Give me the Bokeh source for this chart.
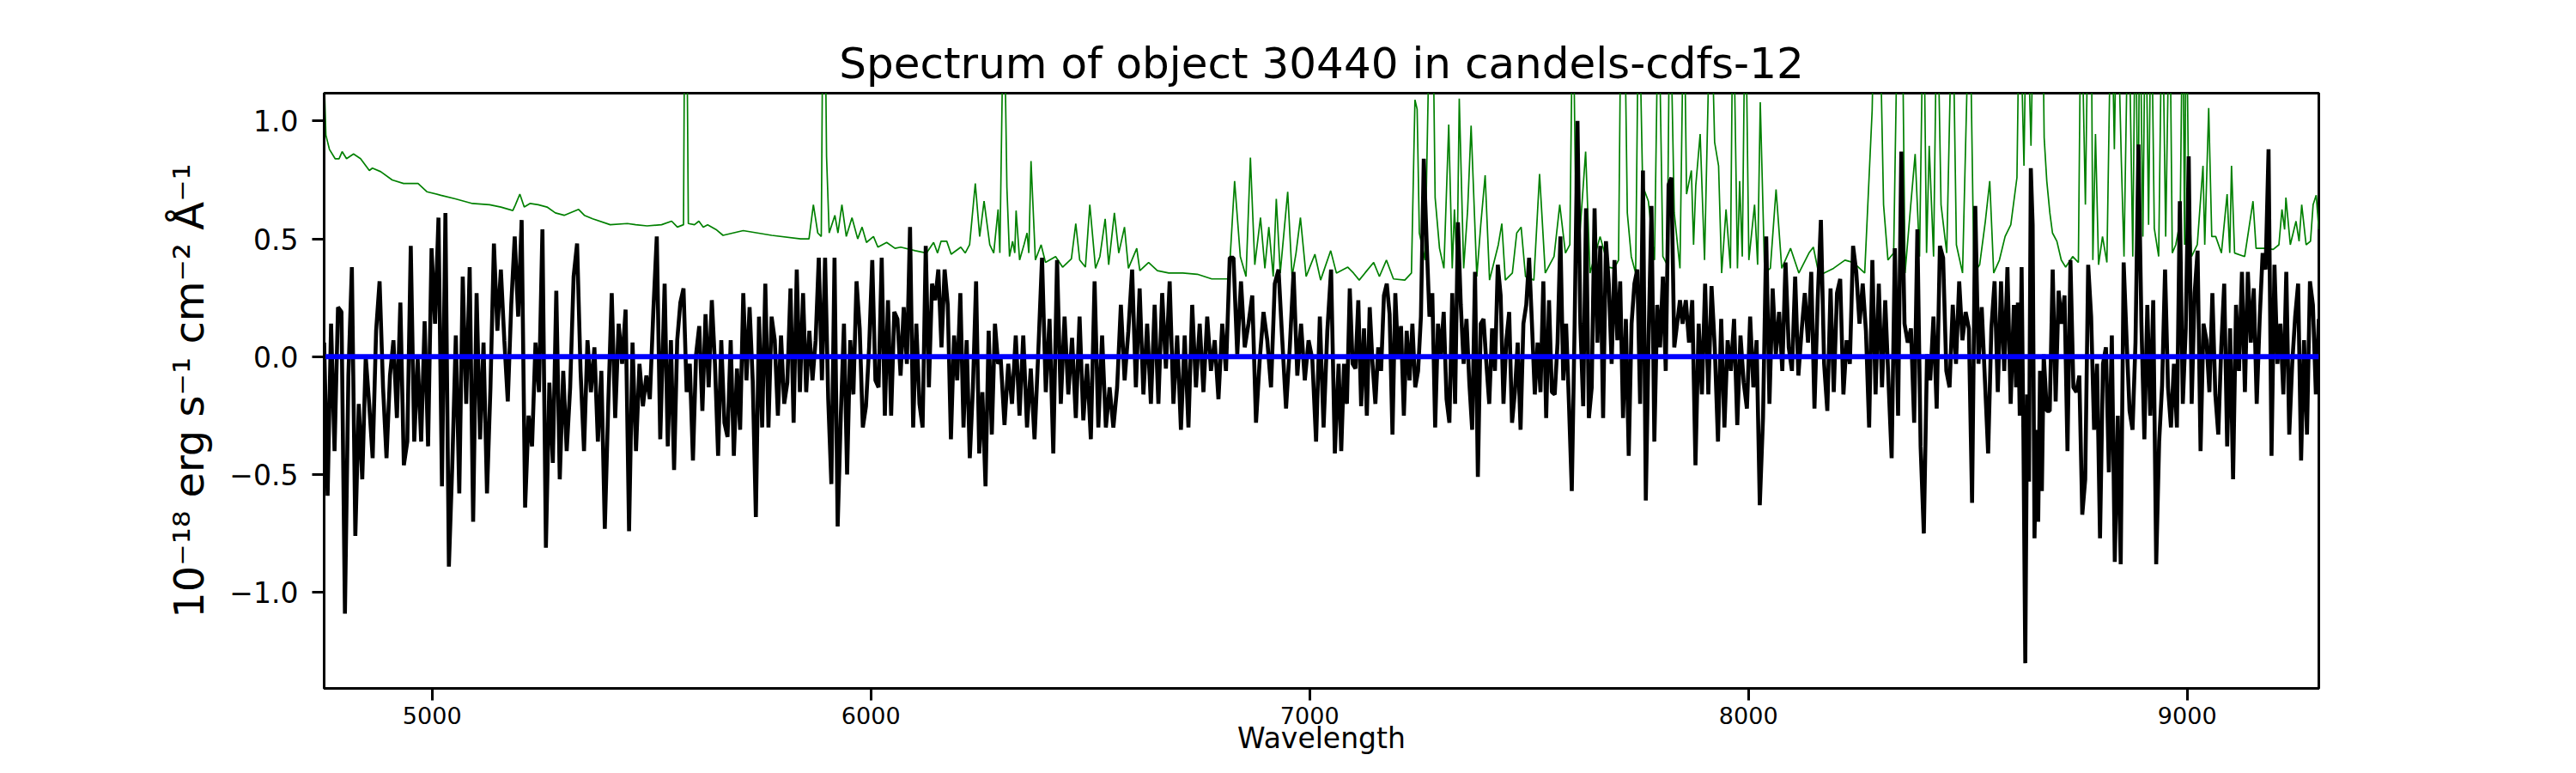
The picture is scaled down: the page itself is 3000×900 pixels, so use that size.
import numpy as np
from bokeh.plotting import figure
from bokeh.models import Range1d, FixedTicker, CustomJSTickFormatter, ColumnDataSource
from bokeh.embed import file_html
from bokeh.resources import INLINE

# ---------------- data ----------------
title_text = "Spectrum of object 30440 in candels-cdfs-12"
x_label = "Wavelength"
y_label = "10\u207b\u00b9\u2078 erg s\u207b\u00b9 cm\u207b\u00b2 \u00c5\u207b\u00b9"

x_ticks = [5000, 6000, 7000, 8000, 9000]
y_ticks = [-1.0, -0.5, 0.0, 0.5, 1.0]
x_limits = [4754, 9300]
y_limits = [-1.407, 1.118]

# observed flux, sampled on a regular grid inside each wavelength segment
seg_edges = [(4754, 5520), (5530, 6290), (6296, 7066), (7072, 7844), (7850, 8605), (8610, 8673), (8680, 9300)]

flux_seg1 = [0.06,-0.59,0.14,-0.40,0.21,0.19,-1.09,-0.08,0.38,-0.76,-0.20,-0.52,0.00,-0.20,-0.43,0.11,0.32,-0.13,-0.43,-0.08,
             0.07,-0.26,0.23,-0.46,-0.36,0.47,-0.36,-0.01,-0.36,0.15,-0.38,0.46,0.14,0.59,-0.55,0.61,-0.89,-0.45,0.09,-0.58,
             0.34,-0.20,0.38,-0.70,0.27,-0.35,0.06,-0.58,-0.13,0.48,0.11,0.37,0.07,-0.19,0.22,0.51,0.17,0.58,-0.64,-0.25,
             -0.38,0.06,-0.15,0.54,-0.81,-0.11,-0.45,0.28,-0.52,-0.06,-0.40,-0.13,0.34,0.48,-0.06,-0.40,0.07,-0.15,0.04,-0.36,
             -0.06,-0.73,-0.20,0.27,-0.26,0.14,-0.03,0.20,-0.74,0.06,-0.40,-0.03,-0.21,-0.08,-0.18,0.19,0.51,-0.35]
flux_seg2 = [0.31,-0.38,0.07,-0.48,0.07,0.23,0.29,-0.15,-0.03,-0.44,0.01,0.13,-0.23,0.18,-0.13,0.24,-0.03,-0.42,0.07,-0.28,
             -0.34,0.07,-0.42,-0.05,-0.31,0.27,-0.10,0.21,-0.10,-0.68,0.17,-0.30,0.31,-0.30,0.17,0.07,-0.25,0.09,-0.20,-0.11,
             0.29,-0.28,0.37,-0.15,0.27,-0.15,0.11,-0.10,0.07,0.42,-0.10,0.42,-0.18,-0.54,0.42,-0.72,-0.25,0.14,-0.50,0.07,
             -0.16,0.32,0.12,-0.30,-0.21,0.04,0.41,-0.10,-0.13,0.42,-0.25,0.24,-0.25,0.19,0.16,-0.08,0.21,-0.03,0.55,-0.30,
             0.14,-0.20,-0.30,0.47,-0.13,0.31,0.24,0.37,0.04,0.37,0.22,-0.35,0.09,-0.10,0.27,-0.30,0.07,-0.43,-0.13,0.32,
             -0.41,-0.15,-0.55,0.11,-0.33,0.14,-0.03]
flux_seg3 = [-0.01,-0.29,-0.03,-0.20,0.09,-0.25,0.09,-0.30,-0.05,-0.35,0.02,0.42,-0.15,0.16,-0.41,0.41,-0.20,0.17,-0.16,0.08,
             -0.26,0.17,-0.27,-0.03,-0.35,0.32,-0.30,0.09,-0.30,-0.13,-0.30,-0.13,0.22,-0.10,0.11,0.37,-0.13,0.29,-0.16,0.14,
             -0.20,0.22,-0.20,0.27,-0.05,0.32,-0.20,0.09,-0.31,0.09,-0.30,0.22,-0.13,0.14,-0.15,0.17,-0.06,0.07,-0.18,0.14,
             -0.06,0.42,0.42,0.01,0.32,0.04,0.14,0.26,-0.28,-0.01,0.19,0.07,-0.13,0.31,0.37,0.07,-0.22,0.04,0.36,-0.08,
             0.14,-0.10,0.07,-0.01,-0.36,0.17,-0.30,0.11,0.37,-0.41,-0.03]
flux_seg4 = [-0.40,-0.03,-0.20,0.29,-0.03,-0.05,0.24,-0.21,0.12,-0.25,0.21,-0.03,-0.20,0.04,-0.06,0.26,0.31,0.18,-0.33,0.27,
             -0.01,0.13,-0.25,0.11,-0.10,0.14,-0.13,-0.06,0.17,0.84,0.49,0.17,0.27,-0.30,0.14,0.01,0.19,-0.18,-0.28,0.27,
             -0.20,0.57,0.22,-0.03,0.16,-0.11,-0.31,0.36,-0.51,0.14,0.16,-0.03,-0.20,0.12,-0.06,0.39,0.26,-0.20,0.07,0.19,
             -0.28,-0.15,0.06,-0.31,0.14,0.22,0.42,0.14,-0.16,0.06,-0.15,0.32,-0.26,0.24,-0.15,-0.16,0.06,0.51,-0.10,0.14,
             -0.20,-0.57,0.14,1.00,0.14,-0.21,0.63,-0.26,-0.13,0.63,0.06,0.47,-0.26,0.49,0.31,-0.03,0.41,0.07,0.32,-0.26,
             0.16,-0.42,0.14,0.31,0.37,-0.20,0.79,-0.61,0.09,0.64,-0.36,0.22,0.04,0.34,-0.06,0.73,0.76,0.04,0.14,0.24]
flux_seg5 = [0.14,0.24,0.06,0.24,-0.46,0.14,-0.16,0.31,-0.16,0.30,0.04,-0.36,0.16,-0.30,0.07,-0.06,0.16,-0.29,0.09,-0.11,
             -0.22,0.17,-0.13,0.07,-0.63,-0.26,0.51,-0.20,0.29,0.01,0.19,-0.06,0.40,0.04,-0.06,0.34,-0.08,0.11,0.27,0.06,
             0.36,-0.22,0.24,0.58,-0.03,-0.23,0.29,-0.15,0.27,0.33,-0.16,0.07,-0.03,0.47,0.36,0.14,0.31,0.11,-0.30,0.41,
             -0.16,0.31,-0.13,0.24,-0.10,-0.43,0.46,-0.25,0.87,0.14,0.06,0.12,-0.28,0.54,-0.38,-0.75,0.01,-0.10,0.17,-0.22,
             0.47,0.42,-0.06,-0.13,0.22,-0.03,0.32,0.07,0.19,0.12,-0.62,0.64,-0.03,0.21,-0.10,-0.41,0.12,0.32,-0.15,0.32,
             -0.06,0.38,-0.20,0.22]
flux_seg6a = [-0.13,0.23,-0.25,0.38,-0.35,-1.30,-0.16,-0.53,0.80,0.56,-0.77,-0.31,-0.70,-0.06,-0.57,0.01]
flux_seg6b = [-0.23,-0.23,0.37,-0.19,
             0.28,0.14,0.26,-0.40,0.41,-0.13,-0.15,-0.08,-0.67,-0.52,0.39,0.17,-0.31,-0.03,-0.77,-0.03,0.04,-0.49,0.09,-0.87,
             -0.25,-0.88,0.40,0.07,-0.23,-0.31,0.06,0.90,0.14,-0.35,0.22,-0.25,0.24,-0.88,-0.36,-0.12,0.37,-0.13,-0.30,-0.03,
             -0.30,0.66,-0.20,0.12,0.85,-0.20,0.27,0.45,-0.40,0.14,0.07,-0.15,0.27,-0.16,-0.33,0.04,0.31,-0.38,0.12,-0.52,
             0.22,-0.06,0.36,-0.15,0.36,0.06,0.29,-0.20,0.16,0.44,0.37,0.88,-0.42,0.39,-0.03,0.14,-0.16,0.36,-0.33,-0.03,
             0.17,0.31,-0.44,0.07,-0.33,0.32,0.22,-0.16,0.16]
flux_segments = [flux_seg1, flux_seg2, flux_seg3, flux_seg4, flux_seg5, flux_seg6a, flux_seg6b]

# sky / error spectrum (green)
sky_wave = [4753,4758,4766,4779,4788,4795,4805,4821,4837,4857,4864,4883,4909,4935,4968,4988,5020,5053,5092,5131,
            5157,5184,5190,5200,5210,5223,5242,5262,5281,5301,5334,5347,5366,5406,5445,5464,5490,5523,
            5546,5559,5573,5576,5580,5584,5598,5608,5618,5628,5647,5663,5709,5774,5840,5859,5869,5879,5887,5891,
            5895,5899,5905,5918,5925,5934,5944,5957,5970,5980,5990,6006,6016,6036,6055,6068,6101,6127,6143,6152,
            6160,6173,6183,6205,6215,6225,6238,6248,6258,6271,6280,6290,
            6294,6303,6310,6316,6323,6328,6331,6339,6349,6356,6360,6365,6375,6388,6398,6421,6437,6457,6467,6476,
            6489,6499,6512,6522,6534,6542,6555,6565,6578,6587,6606,6613,6633,6653,6679,6711,6744,6777,6816,6829,
            6842,6855,6865,6875,6888,6898,6907,6917,6924,6933,6950,6960,6969,6979,6992,7012,7025,7048,7061,
            7087,7100,7113,7126,7146,7159,7175,7191,7217,7232,7240,7245,7250,7263,7275,7280,7286,7296,7306,7317,
            7325,7330,7336,7341,7351,7360,7368,7381,7390,7400,7410,7430,7438,7446,7462,7472,7482,7492,7511,7524,
            7537,7557,7570,7583,7593,7600,7606,7616,7629,7639,7662,7681,7694,7704,7710,7717,7724,7733,7743,7750,
            7759,7772,7786,7795,7805,7815,7821,7831,
            7844,7853,7859,7870,7875,7880,7890,7900,7914,7923,7932,7939,7949,7959,7965,7975,7980,7986,7993,8001,
            8014,8021,8027,8037,8050,8063,8076,8096,8115,8138,8148,8161,8194,8220,8239,8265,8282,8288,8298,8308,
            8318,8331,8341,8350,8357,8370,8380,8390,8399,8406,8412,8422,8430,8439,8452,8465,8474,8488,8504,8514,
            8527,8540,8550,8559,8572,8585,8598,8612,
            8618,8628,8634,8644,8651,8670,8674,8680,8687,8693,8703,8713,8723,8739,8752,8758,8768,8775,8781,8785,
            8791,8798,8807,8817,8827,8834,8840,8850,8856,8866,8876,8882,8888,8892,8899,8905,8912,8918,8925,8935,
            8943,8951,8960,8966,8974,8984,8990,8994,8998,9003,9010,9023,9036,9040,9049,9056,9065,9078,9091,9097,
            9101,9108,9131,9150,9157,9176,9196,9209,9216,9222,9225,9235,9248,9255,9261,9271,9281,9287,9294,9300]
sky_err = [1.25,0.94,0.88,0.84,0.84,0.87,0.84,0.86,0.84,0.79,0.80,0.785,0.75,0.735,0.735,0.70,0.685,0.67,0.65,0.645,
           0.635,0.62,0.645,0.69,0.635,0.65,0.645,0.635,0.61,0.60,0.625,0.60,0.585,0.56,0.565,0.56,0.555,0.56,
           0.575,0.55,0.56,1.6,1.6,0.565,0.56,0.575,0.55,0.56,0.54,0.515,0.535,0.515,0.50,0.50,0.645,0.525,0.51,1.6,
           1.6,0.85,0.525,0.60,0.525,0.645,0.51,0.59,0.50,0.55,0.485,0.51,0.465,0.485,0.46,0.465,0.45,0.44,0.485,0.44,
           0.49,0.49,0.435,0.465,0.44,0.475,0.735,0.51,0.66,0.475,0.44,0.625,
           0.44,1.6,0.72,0.425,0.49,0.44,0.62,0.41,0.475,0.525,0.44,0.83,0.41,0.475,0.40,0.425,0.38,0.415,0.565,0.41,
           0.38,0.645,0.375,0.425,0.585,0.39,0.61,0.44,0.55,0.375,0.46,0.365,0.40,0.365,0.355,0.355,0.35,0.33,0.33,0.745,
           0.425,0.34,0.845,0.39,0.59,0.375,0.55,0.34,0.67,0.355,0.70,0.34,0.44,0.59,0.34,0.435,0.325,0.45,0.355,
           0.38,0.355,0.325,0.355,0.40,0.34,0.41,0.33,0.325,0.355,1.09,1.05,0.525,0.41,1.6,1.6,0.675,0.46,0.375,0.985,
           0.375,0.625,0.375,1.095,0.375,0.62,0.98,0.34,0.56,0.77,0.325,0.475,0.565,0.325,0.355,0.525,0.55,0.34,0.325,0.775,
           0.355,0.425,0.645,0.44,0.475,1.6,0.69,0.525,0.87,0.355,0.51,0.38,0.375,0.41,1.6,1.6,0.61,0.425,0.355,1.6,
           0.725,0.66,0.41,1.6,0.425,0.39,1.6,0.61,
           0.375,1.6,0.69,0.79,0.475,0.725,0.945,0.41,1.6,0.91,0.81,0.355,0.625,0.375,1.6,0.375,0.745,0.425,1.6,0.41,
           0.645,0.39,1.08,0.355,0.375,0.71,0.375,0.46,0.355,0.44,0.465,0.345,0.375,0.41,0.40,0.355,1.045,1.6,1.6,0.645,
           0.41,0.44,1.6,1.6,0.355,0.645,0.86,0.425,1.6,0.44,0.895,0.425,1.6,0.645,0.44,1.6,0.475,0.355,1.6,0.355,
           0.39,0.575,0.745,0.355,0.41,0.51,0.56,0.76,
           1.6,0.81,1.6,0.895,1.6,1.6,0.93,0.745,0.61,0.525,0.49,0.41,0.38,0.425,0.40,1.6,0.645,1.6,1.6,0.41,
           0.945,0.39,0.51,0.40,1.6,0.88,1.6,0.825,0.425,1.6,0.425,1.6,0.475,1.6,0.51,1.6,0.56,1.6,0.545,0.425,
           1.6,0.51,1.6,0.44,0.475,0.575,1.6,0.475,1.6,0.725,0.425,0.475,0.81,0.475,1.055,0.51,0.51,0.44,0.69,0.44,
           0.81,0.44,0.425,0.66,0.46,0.46,0.455,0.475,0.625,0.54,0.675,0.475,0.575,0.49,0.645,0.475,0.49,0.645,0.685,0.54]

# model / continuum (blue)
model_wave = [4754, 9300]
model_flux = [0.0, 0.0]

# ---------------- build sources ----------------
flux_wave = np.concatenate([np.linspace(a, b, len(s)) for (a, b), s in zip(seg_edges, flux_segments)])
flux = np.concatenate([np.array(s, dtype=float) for s in flux_segments])

flux_src = ColumnDataSource(dict(x=flux_wave, y=flux))
sky_src = ColumnDataSource(dict(x=sky_wave, y=sky_err))
model_src = ColumnDataSource(dict(x=model_wave, y=model_flux))

FONT = "DejaVu Sans"

p = figure(width=2984, height=884, output_backend="svg", toolbar_location=None,
           x_range=Range1d(*x_limits), y_range=Range1d(*y_limits),
           min_border_left=377, min_border_right=284, min_border_top=108, min_border_bottom=83)

p.background_fill_color = "white"
p.border_fill_color = "white"
p.outline_line_color = "black"
p.outline_line_width = 3
p.xgrid.visible = False
p.ygrid.visible = False

p.title.text = title_text
p.title.align = "center"
p.title.text_font = FONT
p.title.text_font_size = "50px"
p.title.text_font_style = "normal"
p.title.text_color = "black"
p.title.standoff = 12

p.line("x", "y", source=sky_src, line_color="#008000", line_width=1.7)
p.line("x", "y", source=flux_src, line_color="black", line_width=4.6)
p.line("x", "y", source=model_src, line_color="#0000ff", line_width=6)

xa = p.xaxis[0]
xa.ticker = FixedTicker(ticks=x_ticks)
xa.axis_label = x_label
xa.axis_label_text_font = FONT
xa.axis_label_text_font_size = "33px"
xa.axis_label_text_font_style = "normal"
xa.axis_label_text_color = "black"
xa.axis_label_standoff = -6
xa.major_label_text_font = FONT
xa.major_label_text_font_size = "27px"
xa.major_label_text_color = "black"
xa.major_label_standoff = 7
xa.major_tick_out = 14
xa.major_tick_in = 0
xa.minor_tick_out = 0
xa.minor_tick_in = 0
xa.major_tick_line_width = 3
xa.axis_line_width = 3
xa.axis_line_color = "black"

ya = p.yaxis[0]
ya.ticker = FixedTicker(ticks=y_ticks)
ya.formatter = CustomJSTickFormatter(code="return tick.toFixed(1).replace('-', '\\u2212');")
ya.axis_label = y_label
ya.axis_label_text_font = FONT
ya.axis_label_text_font_size = "48px"
ya.axis_label_text_font_style = "normal"
ya.axis_label_text_color = "black"
ya.axis_label_standoff = 16
ya.major_label_text_font = FONT
ya.major_label_text_font_size = "33px"
ya.major_label_text_color = "black"
ya.major_label_standoff = 16
ya.major_tick_out = 14
ya.major_tick_in = 0
ya.minor_tick_out = 0
ya.minor_tick_in = 0
ya.major_tick_line_width = 3
ya.axis_line_width = 3
ya.axis_line_color = "black"

open("out.html", "w").write(file_html(p, INLINE))
